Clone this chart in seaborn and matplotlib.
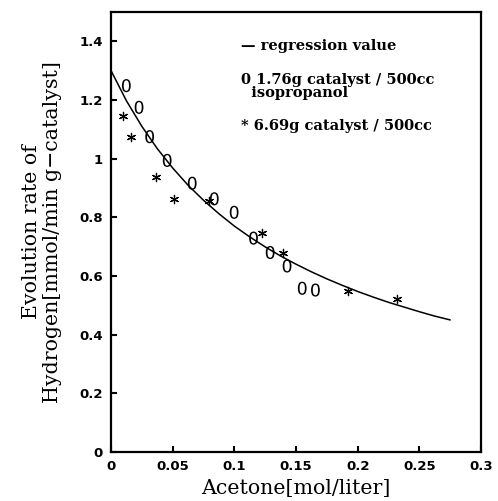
import matplotlib
matplotlib.use("Agg")
import matplotlib.pyplot as plt
import seaborn as sns
import pandas as pd

# data
circ_x = [0.0124, 0.0227, 0.0313, 0.0455, 0.0658, 0.0837, 0.0998, 0.1155, 0.129, 0.1427, 0.155, 0.1657]
circ_y = [1.249, 1.175, 1.075, 0.994, 0.916, 0.863, 0.817, 0.729, 0.680, 0.634, 0.558, 0.552]
star_x = [0.0096, 0.0164, 0.0362, 0.0512, 0.0794, 0.1223, 0.1394, 0.1923, 0.2322]
star_y = [1.144, 1.073, 0.939, 0.863, 0.856, 0.746, 0.677, 0.550, 0.520]
reg_x = [0, 0.0125, 0.025, 0.0375, 0.05, 0.0625, 0.075, 0.0875, 0.1, 0.1125, 0.125, 0.1375,
         0.15, 0.1625, 0.175, 0.1875, 0.2, 0.2125, 0.225, 0.2375, 0.25, 0.2625, 0.275]
reg_y = [1.300, 1.197, 1.110, 1.034, 0.968, 0.909, 0.858, 0.812, 0.770, 0.733, 0.699, 0.668,
         0.640, 0.614, 0.590, 0.568, 0.547, 0.528, 0.510, 0.494, 0.478, 0.463, 0.450]
x_ticks = [0, 0.05, 0.1, 0.15, 0.2, 0.25, 0.3]
x_ticklabels = ["0", "0.05", "0.1", "0.15", "0.2", "0.25", "0.3"]
y_ticks = [0, 0.2, 0.4, 0.6, 0.8, 1.0, 1.2, 1.4]
y_ticklabels = ["0", "0.2", "0.4", "0.6", "0.8", "1", "1.2", "1.4"]

sns.set_style("ticks")
plt.rcParams['font.family'] = ['DejaVu Serif']
plt.rcParams['text.color'] = 'black'
plt.rcParams['axes.labelcolor'] = 'black'
plt.rcParams['xtick.color'] = 'black'
plt.rcParams['ytick.color'] = 'black'

fig = plt.figure(figsize=(4.98, 5.01), dpi=100)
ax = fig.add_axes([0.223, 0.098, 0.743, 0.878])

df_reg = pd.DataFrame({"x": reg_x, "y": reg_y})
df_c = pd.DataFrame({"x": circ_x, "y": circ_y})
df_s = pd.DataFrame({"x": star_x, "y": star_y})

sns.lineplot(data=df_reg, x="x", y="y", ax=ax, color="black", linewidth=1.1, sort=True)
sns.scatterplot(data=df_c, x="x", y="y", ax=ax, marker=r"$0$", s=90, color="black",
                edgecolor="none", linewidth=0)
sns.scatterplot(data=df_s, x="x", y="y", ax=ax, marker=(6, 2, 0), s=35, color="black",
                linewidth=0.9)

ax.set_xlim(0, 0.3)
ax.set_ylim(0, 1.5)
ax.set_xticks(x_ticks)
ax.set_xticklabels(x_ticklabels, fontfamily="DejaVu Sans", fontweight="bold", fontsize=9.5)
ax.set_yticks(y_ticks)
ax.set_yticklabels(y_ticklabels, fontfamily="DejaVu Sans", fontweight="bold", fontsize=9.5)
ax.tick_params(direction="in", length=4, width=1.5, color="black", pad=6)
for sp in ax.spines.values():
    sp.set_linewidth(1.6)
    sp.set_color("black")
    sp.set_visible(True)

ax.set_xlabel("Acetone[mol/liter]", fontsize=14.8, labelpad=4)
ax.set_ylabel("Evolution rate of\nHydrogen[mmol/min g\u2212catalyst]", fontsize=14.8,
              labelpad=12, linespacing=1.15)

kw = dict(transform=ax.transAxes, fontsize=10.5, fontweight="bold", va="center", ha="left",
          color="black")
ax.text(0.352, 0.923, "\u2014 regression value", **kw)
ax.text(0.352, 0.846, "0 1.76g catalyst / 500cc", **kw)
ax.text(0.352, 0.815, "  isopropanol", **kw)
ax.text(0.352, 0.74, "* 6.69g catalyst / 500cc", **kw)

fig.savefig("out.png", dpi=100)
